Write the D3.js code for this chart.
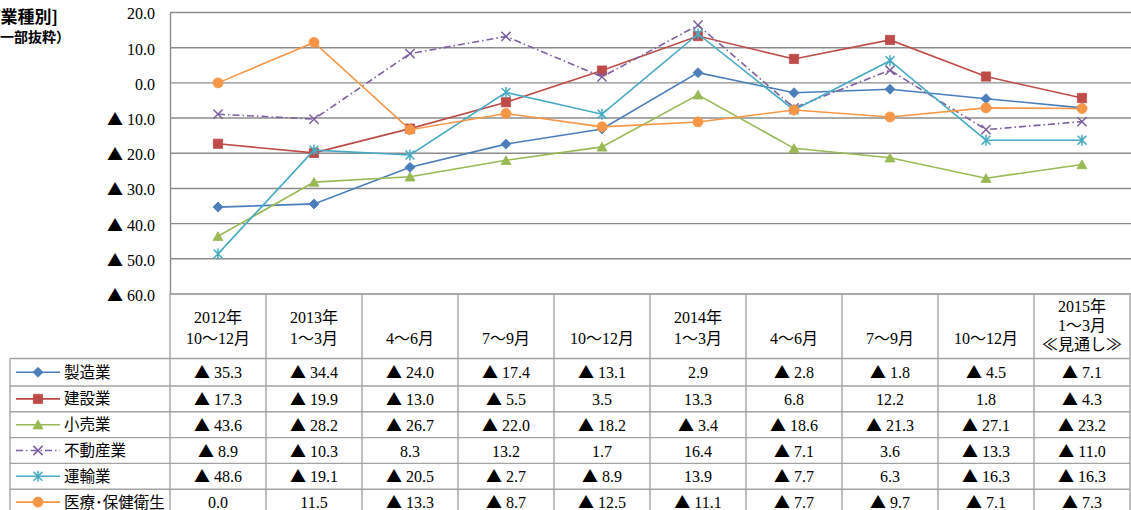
<!DOCTYPE html>
<html>
<head>
<meta charset="utf-8">
<script src="https://cdn.jsdelivr.net/npm/d3@7"></script>
<style>
  html, body { margin: 0; padding: 0; background: #fff; }
  svg { display: block; }
</style>
</head>
<body>
<svg id="chart" width="1131" height="510"></svg>
<script>
// Quarterly periods (column headers, one line per array entry)
const periods = ["2012-Q4", "2013-Q1", "2013-Q2", "2013-Q3", "2013-Q4", "2014-Q1", "2014-Q2", "2014-Q3", "2014-Q4", "2015-Q1"];
const periodLabels = [
  ["2012年", "10～12月"],
  ["2013年", "1～3月"],
  ["4～6月"],
  ["7～9月"],
  ["10～12月"],
  ["2014年", "1～3月"],
  ["4～6月"],
  ["7～9月"],
  ["10～12月"],
  ["2015年", "1～3月", "≪見通し≫"]
];

// Industry names
const industries = ["製造業", "建設業", "小売業", "不動産業", "運輸業", "医療･保健衛生"];

// DI values per industry
const manufacturing = [-35.3, -34.4, -24.0, -17.4, -13.1, 2.9, -2.8, -1.8, -4.5, -7.1];
const construction  = [-17.3, -19.9, -13.0, -5.5, 3.5, 13.3, 6.8, 12.2, 1.8, -4.3];
const retail        = [-43.6, -28.2, -26.7, -22.0, -18.2, -3.4, -18.6, -21.3, -27.1, -23.2];
const realEstate    = [-8.9, -10.3, 8.3, 13.2, 1.7, 16.4, -7.1, 3.6, -13.3, -11.0];
const transport     = [-48.6, -19.1, -20.5, -2.7, -8.9, 13.9, -7.7, 6.3, -16.3, -16.3];
const medical       = [0.0, 11.5, -13.3, -8.7, -12.5, -11.1, -7.7, -9.7, -7.1, -7.3];

// Y axis ticks
const yTicks = [20, 10, 0, -10, -20, -30, -40, -50, -60];

const seriesValues = [manufacturing, construction, retail, realEstate, transport, medical];
const seriesStyle = [
  { color: "#4A7EBB", marker: "diamond",  dash: null },
  { color: "#BE4B48", marker: "square",   dash: null },
  { color: "#98B954", marker: "triangle", dash: null },
  { color: "#7D60A0", marker: "x",        dash: "7,3,1.5,3" },
  { color: "#46AAC5", marker: "star",     dash: null },
  { color: "#F79646", marker: "circle",   dash: null }
];

const svg = d3.select("#chart");
const serif = "'Liberation Serif', 'DejaVu Serif', 'Noto Sans CJK JP', serif";
const gothic = "'Noto Sans CJK JP', 'Noto Sans', sans-serif";

// Layout
const plotLeft = 170, plotRight = 1130, plotTop = 12.5, plotBottom = 294;
const headerBottom = 358.5;
const rowH = 25.8;
const firstRowBottom = 386;
const legendLeft = 10;
const gridColor = "#8c8c8c";
const tableColor = "#a3a3a3";
const numSize = "16px";

const x = d3.scaleBand().domain(periods).range([plotLeft, plotRight]);
const y = d3.scaleLinear().domain([-60, 20]).range([plotBottom, plotTop]);

// Negative numbers are written with a leading ▲ instead of a minus sign
function writeValue(textSel, v) {
  textSel.text(null);
  if (v < 0) {
    textSel.append("tspan").style("font-family", gothic).text("▲");
    textSel.append("tspan").attr("dx", 4).text(Math.abs(v).toFixed(1));
  } else {
    textSel.append("tspan").text(v.toFixed(1));
  }
}

// Title (partially outside the left edge)
svg.append("text").attr("x", 58).attr("y", 23)
  .attr("text-anchor", "end")
  .style("font-family", gothic).style("font-size", "17px").style("font-weight", "bold")
  .text("[業種別]");
svg.append("text").attr("x", 70).attr("y", 42)
  .attr("text-anchor", "end")
  .style("font-family", gothic).style("font-size", "14px").style("font-weight", "bold")
  .text("（一部抜粋）");

// Gridlines
svg.append("g").selectAll("line").data(yTicks).join("line")
  .attr("x1", plotLeft).attr("x2", 1131)
  .attr("y1", d => y(d)).attr("y2", d => y(d))
  .attr("stroke", gridColor).attr("stroke-width", 1.4);

// Y axis via d3.axisLeft
const yAxis = d3.axisLeft(y).tickValues(yTicks).tickSize(0).tickPadding(15);
const gy = svg.append("g").attr("transform", `translate(${plotLeft},0)`).call(yAxis);
gy.select(".domain").attr("stroke", gridColor).attr("stroke-width", 1.4);
gy.selectAll(".tick text")
  .style("font-family", serif).style("font-size", numSize).attr("fill", "#000").attr("dy", "0.4em")
  .each(function (d) { writeValue(d3.select(this), d); });

// Table: header vertical lines + row lines
const colEdges = periods.map(p => x(p)).concat([plotRight]);
const rowEdges = [headerBottom];
for (let i = 0; i < industries.length; i++) rowEdges.push(firstRowBottom + i * rowH);

const table = svg.append("g");
table.selectAll("line.v").data(colEdges).join("line")
  .attr("x1", d => d).attr("x2", d => d)
  .attr("y1", plotBottom).attr("y2", 515)
  .attr("stroke", tableColor).attr("stroke-width", 1.4);
table.append("line").attr("x1", legendLeft).attr("x2", legendLeft)
  .attr("y1", headerBottom).attr("y2", 515)
  .attr("stroke", tableColor).attr("stroke-width", 1.4);
table.selectAll("line.h").data(rowEdges).join("line")
  .attr("x1", legendLeft).attr("x2", plotRight)
  .attr("y1", d => d).attr("y2", d => d)
  .attr("stroke", tableColor).attr("stroke-width", 1.4);

// Header labels
periods.forEach((p, i) => {
  const lines = periodLabels[i];
  const ys = lines.length === 3 ? [306, 325, 344.5] : lines.length === 2 ? [317, 338] : [338];
  lines.forEach((t, j) => {
    svg.append("text")
      .attr("x", x(p) + x.bandwidth() / 2).attr("y", ys[j])
      .attr("text-anchor", "middle").attr("dy", "0.36em")
      .style("font-family", serif).style("font-size", numSize)
      .text(t);
  });
});

// Marker shapes
function markerPath(type) {
  switch (type) {
    case "diamond": return "M0,-5L5,0L0,5L-5,0Z";
    case "square": return "M-4.6,-4.6H4.6V4.6H-4.6Z";
    case "triangle": return "M0,-4.6L5,4.2H-5Z";
    case "x": return "M-4.6,-4.6L4.6,4.6M-4.6,4.6L4.6,-4.6";
    case "star": return "M-4.4,-4.4L4.4,4.4M-4.4,4.4L4.4,-4.4M0,-5.5V5.5";
    case "circle": return "M5,0A5,5 0 1,1 -5,0A5,5 0 1,1 5,0Z";
  }
}
function drawMarker(g, type, color, cx, cy) {
  const open = type === "x" || type === "star";
  g.append("path")
    .attr("d", markerPath(type))
    .attr("transform", `translate(${cx},${cy})`)
    .attr("fill", open ? "none" : color)
    .attr("stroke", color)
    .attr("stroke-width", open ? 1.5 : 0.8);
}

// Series lines and markers
const line = d3.line().x((d, i) => x(periods[i]) + x.bandwidth() / 2).y(d => y(d));
seriesValues.forEach((vals, s) => {
  const st = seriesStyle[s];
  const g = svg.append("g");
  g.append("path").datum(vals)
    .attr("d", line)
    .attr("fill", "none")
    .attr("stroke", st.color)
    .attr("stroke-width", 1.6)
    .attr("stroke-dasharray", st.dash);
  vals.forEach((v, i) => drawMarker(g, st.marker, st.color, x(periods[i]) + x.bandwidth() / 2, y(v)));
});

// Legend cells and value rows
industries.forEach((name, s) => {
  const top = rowEdges[s], bottom = rowEdges[s + 1];
  const cy = (top + bottom) / 2;
  const st = seriesStyle[s];
  const g = svg.append("g");
  g.append("line").attr("x1", 16).attr("x2", 60).attr("y1", cy).attr("y2", cy)
    .attr("stroke", st.color).attr("stroke-width", 1.6)
    .attr("stroke-dasharray", st.dash);
  drawMarker(g, st.marker, st.color, 38, cy);
  g.append("text").attr("x", 64).attr("y", cy).attr("dy", "0.36em")
    .style("font-family", gothic).style("font-size", "15.5px")
    .text(name);

  seriesValues[s].forEach((v, i) => {
    const t = svg.append("text")
      .attr("x", x(periods[i]) + x.bandwidth() / 2).attr("y", cy)
      .attr("text-anchor", "middle").attr("dy", "0.38em")
      .style("font-family", serif).style("font-size", numSize);
    writeValue(t, v);
  });
});
</script>
</body>
</html>
